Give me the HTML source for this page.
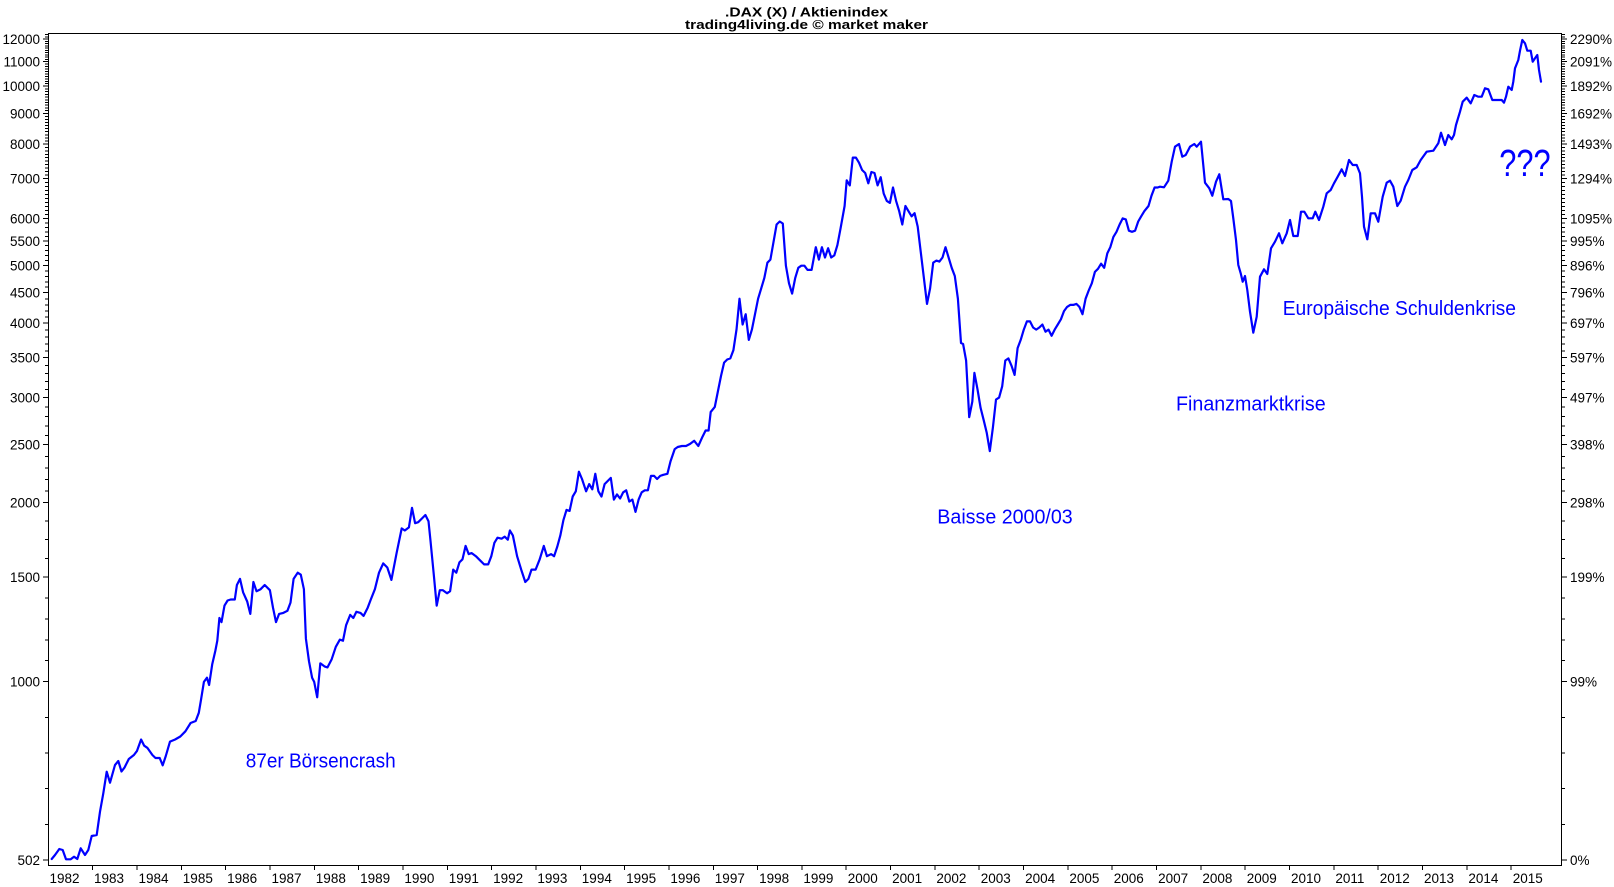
<!DOCTYPE html>
<html><head><meta charset="utf-8"><style>
html,body{margin:0;padding:0;background:#fff;}
svg{display:block;}
.t{font-family:"Liberation Sans",Arial,sans-serif;font-size:13.5px;fill:#000;}
.a{font-family:"Liberation Sans",Arial,sans-serif;font-size:20px;fill:#0000ff;}
</style></head><body>
<svg width="1614" height="887" viewBox="0 0 1614 887" xmlns="http://www.w3.org/2000/svg">
<rect width="1614" height="887" fill="#fff"/>
<g font-family="Liberation Sans, Arial, sans-serif" font-weight="bold" font-size="13" text-anchor="start">
<text x="725" y="16.5" textLength="163" lengthAdjust="spacingAndGlyphs">.DAX (X) / Aktienindex</text>
<text x="685" y="29" textLength="243" lengthAdjust="spacingAndGlyphs">trading4living.de © market maker</text>
</g>
<g stroke="#000" stroke-width="1" fill="none" shape-rendering="crispEdges">
<path d="M48.5 33.5H1561.5V865.5H48.5Z"/>
<path d="M43 39H48M43 61.5H48M43 86.2H48M43 113.4H48M43 143.9H48M43 178.4H48M43 218.3H48M43 240.8H48M43 265.4H48M43 292.7H48M43 323.2H48M43 357.7H48M43 397.6H48M43 444.7H48M43 502.5H48M43 576.9H48M43 681.7H48M43 860H48"/>
<path d="M1562 39H1567M1562 61.5H1567M1562 86.2H1567M1562 113.4H1567M1562 143.9H1567M1562 178.4H1567M1562 218.3H1567M1562 240.8H1567M1562 265.4H1567M1562 292.7H1567M1562 323.2H1567M1562 357.7H1567M1562 397.6H1567M1562 444.7H1567M1562 502.5H1567M1562 576.9H1567M1562 681.7H1567M1562 860H1567"/>
<path id="minL" d="M45 34.7H48M45 36.9H48M45 41.3H48M45 43.5H48M45 45.8H48M45 48H48M45 50.3H48M45 52.5H48M45 54.8H48M45 57H48M45 59.3H48M45 64H48M45 66.4H48M45 68.9H48M45 71.4H48M45 73.9H48M45 76.3H48M45 78.8H48M45 81.3H48M45 83.7H48M45 88.9H48M45 91.6H48M45 94.4H48M45 97.1H48M45 99.8H48M45 102.5H48M45 105.2H48M45 108H48M45 110.7H48M45 116.5H48M45 119.5H48M45 122.6H48M45 125.6H48M45 128.7H48M45 131.7H48M45 134.8H48M45 137.8H48M45 140.9H48M45 147.4H48M45 150.8H48M45 154.3H48M45 157.7H48M45 161.2H48M45 164.6H48M45 168.1H48M45 171.5H48M45 175H48M45 182.4H48M45 186.4H48M45 190.4H48M45 194.4H48M45 198.4H48M45 202.3H48M45 206.3H48M45 210.3H48M45 214.3H48M45 222.8H48M45 227.3H48M45 231.8H48M45 236.3H48M45 245.7H48M45 250.6H48M45 255.6H48M45 260.5H48M45 270.9H48M45 276.3H48M45 281.8H48M45 287.2H48M45 298.8H48M45 304.9H48M45 311H48M45 317.1H48M45 330.1H48M45 337H48M45 343.9H48M45 350.8H48M45 365.7H48M45 373.7H48M45 381.6H48M45 389.6H48M45 407H48M45 416.4H48M45 425.9H48M45 435.3H48M45 456.3H48M45 467.8H48M45 479.4H48M45 490.9H48M45 521.1H48M45 539.7H48M45 558.3H48M45 597.9H48M45 618.8H48M45 639.8H48M45 660.7H48M45 717.4H48M45 753H48M45 788.7H48M45 824.3H48"/>
<use href="#minL" transform="translate(1610,0) scale(-1,1)"/>
<path d="M92.6 866V870M137 866V870M181.3 866V870M225.6 866V870M270 866V870M314.3 866V870M358.6 866V870M402.9 866V870M447.3 866V870M491.6 866V870M535.9 866V870M580.3 866V870M624.6 866V870M668.9 866V870M713.3 866V870M757.6 866V870M801.9 866V870M846.2 866V870M890.6 866V870M934.9 866V870M979.2 866V870M1023.6 866V870M1067.9 866V870M1112.2 866V870M1156.6 866V870M1200.9 866V870M1245.2 866V870M1289.5 866V870M1333.9 866V870M1378.2 866V870M1422.5 866V870M1466.9 866V870M1511.2 866V870"/>
</g>
<g class="t" text-anchor="end">
<text x="40" y="44">12000</text><text x="40" y="66.5">11000</text><text x="40" y="91.2">10000</text><text x="40" y="118.4">9000</text><text x="40" y="148.9">8000</text><text x="40" y="183.4">7000</text><text x="40" y="223.3">6000</text><text x="40" y="245.8">5500</text><text x="40" y="270.4">5000</text><text x="40" y="297.7">4500</text><text x="40" y="328.2">4000</text><text x="40" y="362.7">3500</text><text x="40" y="402.6">3000</text><text x="40" y="449.7">2500</text><text x="40" y="507.5">2000</text><text x="40" y="581.9">1500</text><text x="40" y="686.7">1000</text><text x="40" y="865">502</text>
</g>
<g class="t" text-anchor="start">
<text x="1570" y="44">2290%</text><text x="1570" y="66.5">2091%</text><text x="1570" y="91.2">1892%</text><text x="1570" y="118.4">1692%</text><text x="1570" y="148.9">1493%</text><text x="1570" y="183.4">1294%</text><text x="1570" y="223.3">1095%</text><text x="1570" y="245.8">995%</text><text x="1570" y="270.4">896%</text><text x="1570" y="297.7">796%</text><text x="1570" y="328.2">697%</text><text x="1570" y="362.7">597%</text><text x="1570" y="402.6">497%</text><text x="1570" y="449.7">398%</text><text x="1570" y="507.5">298%</text><text x="1570" y="581.9">199%</text><text x="1570" y="686.7">99%</text><text x="1570" y="865">0%</text>
</g>
<g class="t" text-anchor="start">
<text x="49.5" y="883">1982</text><text x="94" y="883">1983</text><text x="138.5" y="883">1984</text><text x="182.8" y="883">1985</text><text x="227.1" y="883">1986</text><text x="271.5" y="883">1987</text><text x="315.8" y="883">1988</text><text x="360.1" y="883">1989</text><text x="404.4" y="883">1990</text><text x="448.8" y="883">1991</text><text x="493.1" y="883">1992</text><text x="537.4" y="883">1993</text><text x="581.8" y="883">1994</text><text x="626.1" y="883">1995</text><text x="670.4" y="883">1996</text><text x="714.8" y="883">1997</text><text x="759.1" y="883">1998</text><text x="803.4" y="883">1999</text><text x="847.7" y="883">2000</text><text x="892.1" y="883">2001</text><text x="936.4" y="883">2002</text><text x="980.7" y="883">2003</text><text x="1025.1" y="883">2004</text><text x="1069.4" y="883">2005</text><text x="1113.7" y="883">2006</text><text x="1158.1" y="883">2007</text><text x="1202.4" y="883">2008</text><text x="1246.7" y="883">2009</text><text x="1291" y="883">2010</text><text x="1335.4" y="883">2011</text><text x="1379.7" y="883">2012</text><text x="1424" y="883">2013</text><text x="1468.4" y="883">2014</text><text x="1512.7" y="883">2015</text>
</g>
<polyline fill="none" stroke="#0000ff" stroke-width="2.2" stroke-linejoin="round" stroke-linecap="round" points="
51.7,859 55,855 59.3,849 62.7,850 66,859.3 70.7,859.3 74,856.7 77.3,859 80.7,848.3 85,855 88.3,850 91.7,836 96.7,835 100,811.7 103.3,793.3 106.7,771.7 110,782.7 115,765 118.3,761 121.5,771.5 124.6,767.4 128.8,759 133.9,755 137,750.9 141.1,739.5 144.2,745.7 147.3,747.8 152.4,755 155.5,758 159.7,758 162.7,765.3 165.8,756 170,741.6 175.1,739.5 180.3,736.5 185.4,731.3 190.6,723 195.7,721 198.8,712.8 200.9,700.4 203.9,681.9 207,677.7 209.1,685 212.2,664.4 215.3,651 217.3,640.7 219.4,618 221.5,622.1 224.5,605.6 227.6,600.5 230.7,599.5 234.8,599.5 236.9,585 240,578.9 243.1,592.3 247.2,601.5 250.3,613.9 253.4,582 256.5,591.2 260.6,589.2 264.7,585 269.9,590.2 273,607.7 276,622.1 279.1,613.9 283.3,612.9 287.4,610.8 290.5,602.6 293.6,578.9 297.7,572.7 300.8,574.7 303.9,589.2 305.9,638.6 309,661.3 312.1,677.7 314.2,681.9 317.2,697.3 320.3,663.3 324.5,666.4 327.5,667.4 331.7,659.2 335.8,646.8 339.9,639.6 343,640.7 346.1,625.2 350.2,614.9 353.3,618 356.4,611.8 360.5,612.9 363.6,615.9 367.7,607.7 370.8,599.5 374.9,589.2 379,572.7 383.2,563.4 387.3,567.5 391.4,579.9 396.6,553.1 401.7,528.4 404.8,530.5 408.9,527.4 412,507.8 415.1,523.2 418.2,522.2 422.3,518.1 425.4,515 428.5,521.2 430.5,540.8 433.6,572.7 436.7,605.6 439.8,590.2 442.9,590.2 447,593.3 450.1,591.2 453.2,569.6 456.3,572.7 459.4,562.4 462.5,559.3 465.6,545.9 468.7,554.1 471.7,553.1 475.9,556.2 480,560.3 484.1,564.4 488.2,564.4 491.3,556.2 494.4,542.8 497.5,537.7 501.6,538.7 504.7,536.6 507.8,539.7 509.9,530.5 512.9,535.6 517.1,556.2 521.2,569.6 525.3,582 528.4,578.9 531.5,569.6 535.6,569.6 539.7,559.3 543.8,545.9 546.9,556.2 551.1,554.1 554.1,556.2 557.2,546.9 560.3,535.6 563.4,520.2 566.5,509.9 569.6,510.9 572.7,496.5 575.8,491.3 578.9,471.7 582,479 586.1,491.3 589.2,484.1 592.3,489.3 595.3,473.8 598.4,491.3 601.5,496.5 604.6,484.1 607.7,481 610.8,477.9 613.9,499.6 617,494.4 620.1,498.5 623.2,492.3 626.2,490.3 629.3,501.6 632.4,499.6 635.5,511.9 638.6,499.6 641.7,492.3 644.8,490.3 647.9,490.3 651,475.9 654.1,475.9 657.1,479 660.2,475.9 663.3,474.8 667.4,473.8 670.5,461.4 674.7,449.1 677.7,447 681.9,446 686,446 690.1,443.9 694.2,440.8 698.3,446 702.5,436.7 705.6,430.5 708.6,430.5 710.7,412 714.8,406.9 717.9,391.4 721,376 724.1,362.6 727.2,359.5 730.3,358.4 733.4,350.2 736.5,329.6 739.5,298.7 742.6,324.5 745.7,314.2 748.8,339.9 751.9,329.6 755,314.2 758.1,298.7 761.2,288.4 764.3,278.1 767.4,262.7 770.4,259.6 773.5,242.1 776.6,224.5 779.7,221.5 782.8,223.5 785.9,265.7 789,283.3 792.1,293.6 795.2,278.1 798.3,267.8 801.3,265.7 804.4,265.7 807.5,269.9 811.6,269.9 815.8,247.2 818.9,259.6 821.9,247.2 825,257.5 828.1,248.2 831.2,257.5 834.3,255.4 837.4,245.1 840.5,228.7 844.6,206 846.7,180.3 849.8,185.4 852.8,157.6 855.9,157.6 859,162.7 862.1,170 865.2,173 868.3,183.3 871.4,172 874.5,173 877.6,185.4 880.7,177.2 883.7,193.6 886.8,200.9 889.9,202.9 893,187.5 896.1,200.9 899.2,211.2 902.3,224.5 905.4,206 908.5,211.2 911.6,216.3 914.6,213.2 917.7,226.6 920.8,252.4 923.9,278.1 927,303.9 930.1,288.4 933.2,262.7 936.3,260.6 939.4,261.6 942.5,257.5 945.5,247.2 948.6,257.5 951.7,267.8 954.8,276 957.9,298.7 961,343 963.1,344 966.1,360.5 969.2,417.2 972.3,401.7 974.4,372.9 977.5,389.3 980.6,407.9 983.7,420.2 986.7,432.6 989.8,451.1 992.9,427.5 996,399.6 999.1,397.6 1002.2,386.3 1005.3,360.5 1008.4,358.4 1011.5,365.7 1014.6,374.9 1017.6,348.1 1020.7,339.9 1023.8,329.6 1026.9,321.4 1030,321.4 1033.1,327.5 1036.2,329.6 1039.3,327.5 1042.4,324.5 1045.5,331.7 1048.5,329.6 1051.6,335.8 1054.7,329.6 1057.8,324.5 1060.9,319.3 1064,311.1 1067.1,306.9 1070.2,304.9 1073.3,304.9 1076.4,303.9 1079.4,306.9 1082.5,314.2 1085.6,298.7 1088.7,290.5 1091.8,283.3 1094.9,271.9 1098,268.8 1101.1,263.7 1104.2,267.8 1107.3,253.4 1110.3,247.2 1113.4,236.9 1116.5,231.8 1119.6,224.5 1122.7,218.4 1125.8,219.4 1128.9,230.7 1132,231.8 1135.1,230.7 1138.2,221.5 1141.2,216.3 1144.3,211.2 1148.5,206 1151.5,195.7 1154.6,187.5 1157.7,187.5 1160,186.7 1164,187.3 1168.3,180.7 1171.7,161.7 1175,146.7 1179,144 1182.3,156.7 1185.7,155 1190,146.7 1194.3,144 1196.7,146.7 1201,141.7 1205,182.7 1209.3,188.3 1212.3,195.7 1216,181.7 1219.3,174.3 1223.3,199.3 1228.3,199 1231,201 1233.3,218.3 1236,240 1238.3,265 1240.7,273.3 1242.7,281.7 1245,276 1247.3,290 1250,311.7 1253.3,332.7 1256.7,316.7 1260,276.7 1264,269.3 1267.3,274 1271,248.3 1275,241.7 1279,233.3 1282.3,243.3 1286.7,233.3 1290,220 1293.3,236 1297.7,236 1301,211.7 1304.3,211.7 1308.3,218.3 1312.7,218.3 1315.3,211.7 1319,220 1323.3,206.7 1326.7,193.3 1330.7,190 1334,183.3 1337.7,176.7 1341.7,169.3 1345,176 1349,160 1352.7,165 1356.7,165 1360,173.3 1362,196.7 1364,226.7 1367.3,239.3 1370.7,213.3 1375,213.3 1378.3,221.7 1382.7,196.7 1386.7,182.7 1390,180.7 1393.3,186.7 1397.3,206 1400.7,200.7 1405,186.7 1408.3,180 1412.3,170 1416.7,167.3 1420.7,160 1426.7,151.7 1433.3,150.7 1438.3,143.3 1441,132.7 1445,145 1448.3,135 1451.7,139.3 1454,135 1456,125 1460,111.7 1462.7,101.7 1466.7,97.7 1470.7,103.3 1474.3,95 1478.3,96.7 1481.7,96.7 1485,88.3 1488.3,89.3 1492.3,100 1496.7,100 1501.7,100 1504,102.7 1506,96.7 1508.3,86.7 1511.7,90 1513.3,81.7 1515,68.3 1518.3,60 1520,50.7 1522.3,40 1525,43.3 1527.3,50.7 1530.7,50.7 1532.7,61.7 1535,58.3 1537.3,55 1539,70 1541,81.7"/>
<g class="a">
<text x="245.7" y="767.3" textLength="150" lengthAdjust="spacingAndGlyphs">87er Börsencrash</text>
<text x="937.3" y="523.3" textLength="135.4" lengthAdjust="spacingAndGlyphs">Baisse 2000/03</text>
<text x="1176" y="410.7" textLength="149.7" lengthAdjust="spacingAndGlyphs">Finanzmarktkrise</text>
<text x="1282.7" y="315" textLength="233.3" lengthAdjust="spacingAndGlyphs">Europäische Schuldenkrise</text>
<text x="1499.3" y="176" font-size="38" textLength="51.4" lengthAdjust="spacingAndGlyphs">???</text>
</g>
</svg>
</body></html>
